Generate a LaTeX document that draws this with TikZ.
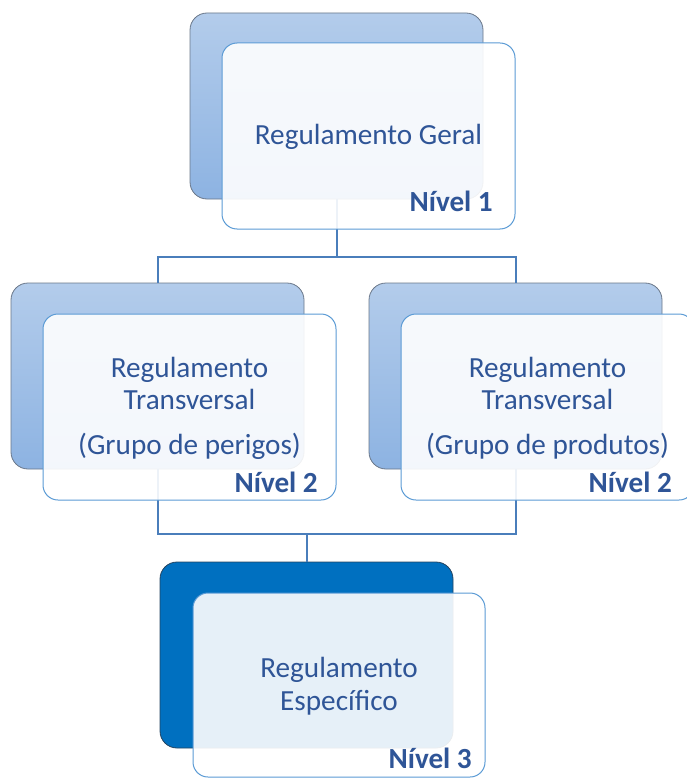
\documentclass[tikz,border=0pt]{standalone}
\usepackage{fontspec}
\setmainfont{Carlito}
\usepackage{tikz}
\definecolor{backtop}{HTML}{B3CCEB}
\definecolor{backbot}{HTML}{8DB3E2}
\definecolor{backline}{HTML}{6A7789}
\definecolor{deepfill}{HTML}{0070C0}
\definecolor{deepline}{HTML}{24435F}
\definecolor{frontline}{HTML}{5B9BD5}
\definecolor{linkblue}{HTML}{4A7EBB}
\definecolor{txtblue}{HTML}{2F5597}
\begin{document}
\begin{tikzpicture}[
  x=1pt,y=-1pt,
  back/.style={rectangle,draw=backline,line width=0.8pt,top color=backtop,bottom color=backbot,minimum width=293pt,minimum height=186pt,inner sep=0pt,rounded corners=17pt},
  deep/.style={rectangle,draw=deepline,line width=0.8pt,fill=deepfill,minimum width=293pt,minimum height=186pt,inner sep=0pt,rounded corners=17pt},
  front/.style={rectangle,draw=frontline,line width=1pt,fill=white,fill opacity=0.9,minimum width=293pt,minimum height=186pt,inner sep=0pt,rounded corners=15pt},
  txt/.style={text=txtblue,font=\fontsize{29.2}{34}\selectfont,inner sep=0pt,anchor=base},
  lvl/.style={text=txtblue,font=\fontsize{29.2}{34}\selectfont\bfseries,inner sep=0pt,anchor=base east},
  link/.style={draw=linkblue,line width=2pt}
]
\useasboundingbox (0,0) rectangle (687,778);
\clip (0,0) rectangle (687,778);

% back plates
\node[back] (tb) at (336.5,106) {};
\node[back] (lb) at (157.5,376) {};
\node[back] (rb) at (515.5,376) {};
\node[deep] (bb) at (306.5,655) {};

% connectors
\coordinate (j1) at (336.5,257);
\coordinate (j2) at (306.5,534);
\draw[link] (tb.south)--(j1);
\draw[link] (lb.north) |- (j1) -| (rb.north);
\draw[link] (lb.south) |- (j2) -| (rb.south);
\draw[link] (j2)--(bb.north);

% front cards
\node[front] (tf) at (368.5,136) {};
\node[front] (lf) at (189.5,407) {};
\node[front] (rf) at (547.5,407) {};
\node[front,minimum width=292pt,minimum height=184pt] (bf) at (339,685) {};

% texts
\node[txt] (t1) at (368.5,145) {Regulamento Geral};
\node[lvl] (n1) at (493,211) {Nível 1};

\node[txt] (l1) at (189.5,377) {Regulamento};
\node[txt] (l2) at (189.5,409) {Transversal};
\node[txt] (l3) at (189.5,454) {(Grupo de perigos)};
\node[lvl] (n2) at (318,492) {Nível 2};

\node[txt] (r1) at (547.5,377) {Regulamento};
\node[txt] (r2) at (547.5,409) {Transversal};
\node[txt] (r3) at (547.5,454) {(Grupo de produtos)};
\node[lvl] (n3) at (672,492) {Nível 2};

\node[txt] (b1) at (339,677) {Regulamento};
\node[txt] (b2) at (339,710) {Específico};
\node[lvl] (n4) at (472,768) {Nível 3};
\end{tikzpicture}
\end{document}
